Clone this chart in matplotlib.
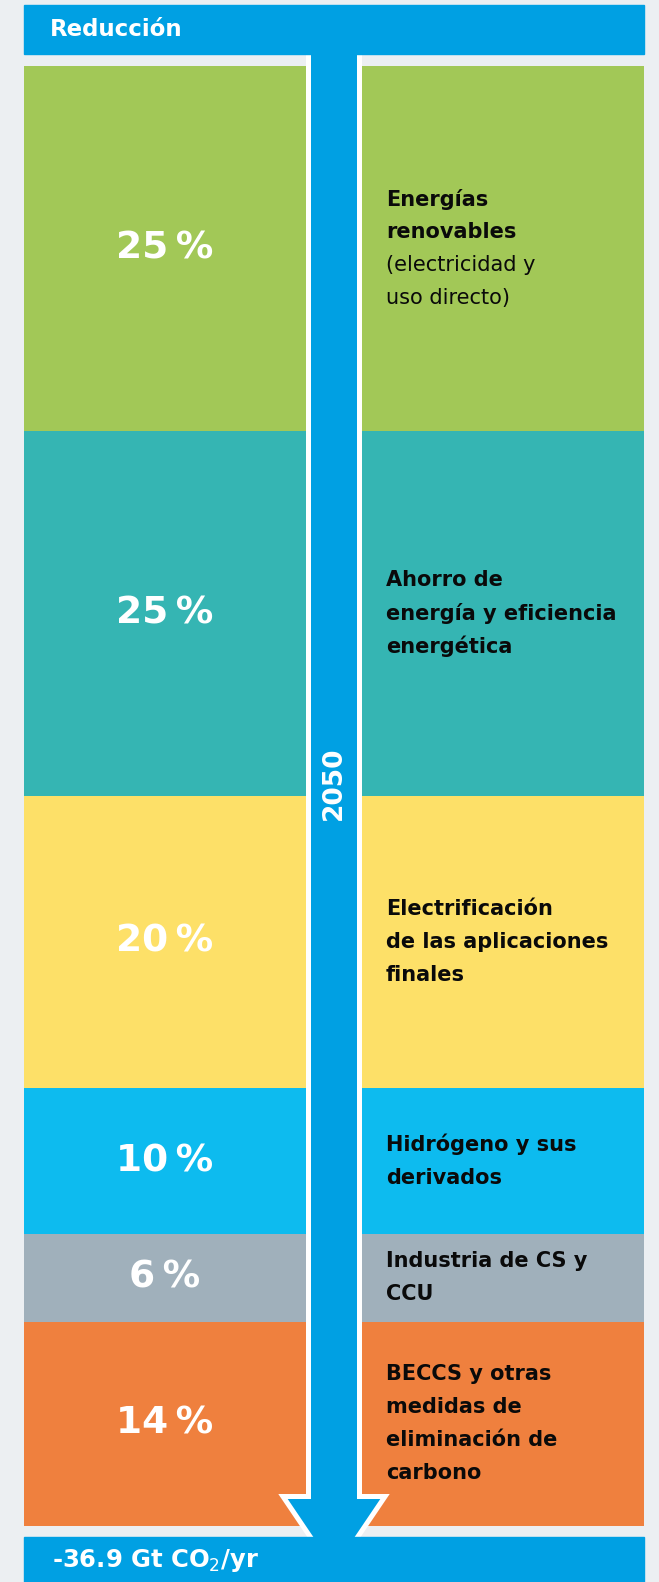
# %%
from matplotlib import pyplot as plt
from matplotlib.patches import Polygon, Rectangle
from matplotlib import transforms
import numpy as np

# data
shares = [25, 25, 20, 10, 6, 14]
colors = ['#a2c857', '#35b5b3', '#fde068', '#0dbbef', '#a0b0bb', '#ef803e']
# each label: list of (text, bold)
labels = [
    [('Energías', True), ('renovables', True), ('(electricidad y', False), ('uso directo)', False)],
    [('Ahorro de', True), ('energía y eficiencia', True), ('energética', True)],
    [('Electrificación', True), ('de las aplicaciones', True), ('finales', True)],
    [('Hidrógeno y sus', True), ('derivados', True)],
    [('Industria de CS y', True), ('CCU', True)],
    [('BECCS y otras', True), ('medidas de', True), ('eliminación de', True), ('carbono', True)],
]
header_text = 'Reducción'
year_text = '2050'
total_text = '-36.9 Gt CO$_2$/yr'

BLUE = '#00a0e3'
W, H = 659, 1582

fig = plt.figure(figsize=(W / 100, H / 100), dpi=100, facecolor='#eceff2')

# stacked blocks, y in percent
top, bot = 66, 1526
axb = fig.add_axes([0, 1 - bot / H, 1, (bot - top) / H])
axb.set_xlim(0, W)
axb.set_ylim(100, 0)
axb.axis('off')

cum = np.concatenate([[0], np.cumsum(shares)[:-1]])
for s, b, c in zip(shares, cum, colors):
    axb.bar([24, 362], [s, s], bottom=[b, b], width=282, align='edge', color=c, linewidth=0)

line_h = 33 * 0.72  # points
for s, b, lab in zip(shares, cum, labels):
    yc = b + s / 2
    axb.text(165, yc, f'{s}\u2009%', color='white', fontsize=27, fontweight='bold',
             ha='center', va='center', family='DejaVu Sans')
    n = len(lab)
    for i, (t, bold) in enumerate(lab):
        tr = transforms.offset_copy(axb.transData, fig=fig, x=0, y=-(i - (n - 1) / 2) * line_h,
                                    units='points')
        axb.text(386, yc, t, transform=tr, fontsize=15, family='DejaVu Sans',
                 fontweight='bold' if bold else 'normal', color='#0a0a0a',
                 ha='left', va='center')

# overlay in pixel coords
ax = fig.add_axes([0, 0, 1, 1], facecolor='none')
ax.set_xlim(0, W)
ax.set_ylim(H, 0)
ax.axis('off')

# arrow (outline midline)
arrow = Polygon([(308.5, 40), (308.5, 1496.5), (283, 1496.5), (334, 1572),
                 (385, 1496.5), (359.5, 1496.5), (359.5, 40)],
                closed=True, facecolor=BLUE, edgecolor='white', linewidth=3.6,
                joinstyle='miter', zorder=2)
ax.add_patch(arrow)

ax.add_patch(Rectangle((24, 5), 620, 49, color=BLUE, zorder=3))
ax.add_patch(Rectangle((24, 1537), 620, 60, color=BLUE, zorder=3))

ax.text(50, 29, header_text, color='white', fontsize=16.5, fontweight='bold',
        family='DejaVu Sans', ha='left', va='center', zorder=4)
ax.text(334, 783, year_text, color='white', fontsize=19, fontweight='bold',
        family='DejaVu Sans', rotation=90, ha='center', va='center', zorder=4)
ax.text(52, 1560, total_text, color='white', fontsize=17.5, fontweight='bold',
        family='DejaVu Sans', ha='left', va='center', zorder=4)

fig.savefig('out.png', dpi=100, facecolor=fig.get_facecolor())
